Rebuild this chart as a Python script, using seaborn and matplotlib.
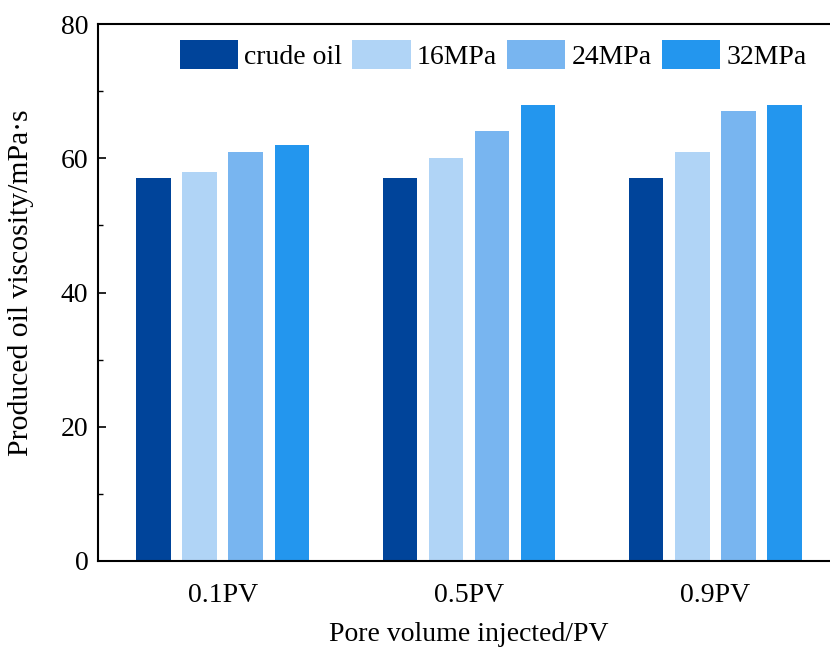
import matplotlib
matplotlib.use("Agg")
import matplotlib.pyplot as plt
import seaborn as sns
import pandas as pd
from matplotlib.ticker import MultipleLocator

categories = ["0.1PV", "0.5PV", "0.9PV"]
series = ["crude oil", "16MPa", "24MPa", "32MPa"]
crude_oil = [57, 57, 57]
mpa16 = [58, 60, 61]
mpa24 = [61, 64, 67]
mpa32 = [62, 68, 68]
colors = ["#00449A", "#B0D4F6", "#78B5F0", "#2396EE"]

rows = []
for name, vals in zip(series, [crude_oil, mpa16, mpa24, mpa32]):
    for c, v in zip(categories, vals):
        rows.append({"PV": c, "series": name, "value": v})
df = pd.DataFrame(rows)

sns.set_theme(style="white")
plt.rcParams["font.family"] = ["Liberation Serif", "DejaVu Serif"]
for k in ["text.color", "axes.labelcolor", "xtick.color", "ytick.color"]:
    plt.rcParams[k] = "black"

fig = plt.figure(figsize=(8.3, 6.52), dpi=100)
ax = fig.add_axes([98 / 830, 1 - 561 / 652, 742 / 830, 537 / 652])

sns.barplot(data=df, x="PV", y="value", hue="series", order=categories,
            hue_order=series, palette=colors, width=0.748, gap=0.24,
            saturation=1, ax=ax, edgecolor="none")

ax.set_xlim(-0.508, 2.508)
ax.set_ylim(0, 80)
ax.yaxis.set_major_locator(MultipleLocator(20))
ax.yaxis.set_minor_locator(MultipleLocator(10))
ax.tick_params(axis="y", which="major", direction="in", length=6, width=1.2,
               labelsize=20, left=True, pad=7)
ax.tick_params(axis="y", which="minor", direction="in", length=3.5, width=1.0, left=True)
ax.tick_params(axis="x", which="both", bottom=False, labelsize=20, pad=10)
for s in ax.spines.values():
    s.set_color("black")
    s.set_linewidth(1.5)

ax.set_xlabel("Pore volume injected/PV", fontsize=20, labelpad=10)
ax.set_ylabel("Produced oil viscosity/mPa·s", fontsize=21.3)
ax.yaxis.set_label_coords(-0.086, 0.518)

ax.legend(loc="upper left", bbox_to_anchor=(0.1105, 0.97), ncol=4, frameon=False,
          fontsize=20, handlelength=2.1, handleheight=1.25, handletextpad=0.22,
          columnspacing=0.36, borderaxespad=0, borderpad=0)

fig.savefig("out.png", dpi=100)
